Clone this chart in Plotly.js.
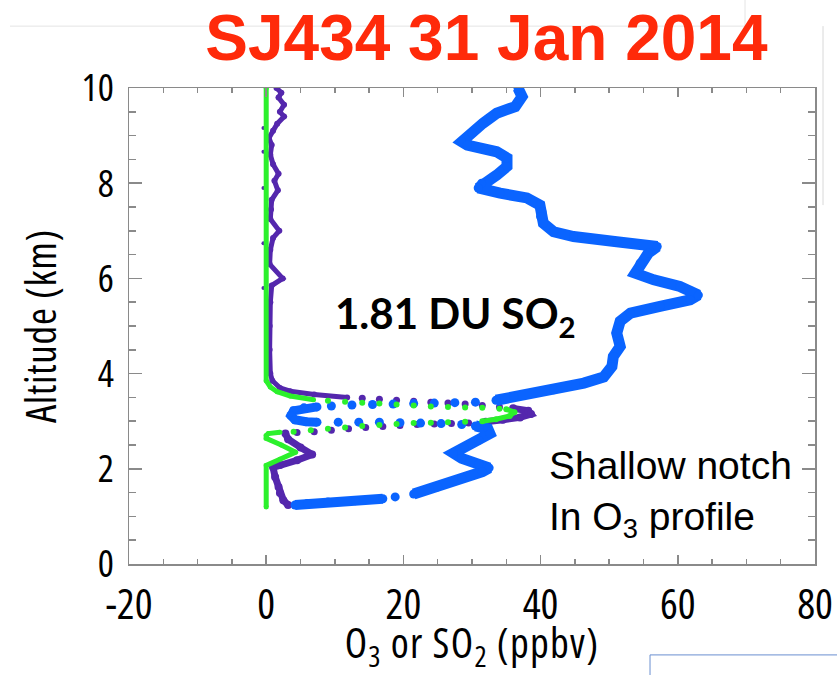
<!DOCTYPE html>
<html>
<head>
<meta charset="utf-8">
<script src="https://cdn.plot.ly/plotly-3.0.1.min.js"></script>
<style>
html,body{margin:0;padding:0;background:#fff;}
#chart{width:837px;height:675px;}
.xtick text, .ytick text { font-stretch: 75% !important; }
.g-xtitle text { font-stretch: 75% !important; letter-spacing: 1.3px; }
.g-ytitle text { font-stretch: 75% !important; letter-spacing: 0.7px; }
</style>
</head>
<body>
<div id="chart"></div>
<script>
// ---------- DATA ----------
// Ozone (blue) profile: ppbv vs altitude (km)
const o3TopVal = [36.7, 37.3, 36.3, 33.6, 31.6, 30.0, 28.5, 29.3, 33.6, 35.1, 35.1, 33.6, 31.4, 30.9, 34.1, 38.0, 39.9, 40.2, 40.0, 40.4, 41.9, 44.8, 51.1, 57.0, 55.7, 54.5, 53.8, 56.5, 60.3, 63.0, 61.8, 57.4, 53.1, 51.6, 51.1, 51.6, 50.6, 50.4, 49.2, 46.3, 41.9, 36.1, 33.5];
const o3TopAlt = [10.0, 9.82, 9.61, 9.47, 9.26, 9.05, 8.87, 8.80, 8.66, 8.53, 8.35, 8.17, 8.00, 7.90, 7.79, 7.69, 7.54, 7.40, 7.30, 7.16, 6.98, 6.88, 6.77, 6.67, 6.53, 6.32, 6.11, 5.97, 5.83, 5.65, 5.55, 5.41, 5.27, 5.10, 4.85, 4.57, 4.36, 4.15, 3.93, 3.80, 3.66, 3.51, 3.44];
const o3RowAVal = [30.5, 27.5, 24.5, 21.5, 18.5, 15.5, 12.5, 9.5];
const o3RowAAlt = [3.40, 3.39, 3.38, 3.37, 3.36, 3.35, 3.34, 3.32];
const o3CurlVal = [7.4, 5.5, 4.0, 3.6, 4.2, 5.8, 7.4];
const o3CurlAlt = [3.30, 3.28, 3.22, 3.12, 3.03, 2.99, 2.98];
const o3RowBVal = [10.5, 13.5, 16.5, 19.5, 22.5, 25.5, 28.5];
const o3RowBAlt = [2.98, 2.98, 2.98, 2.97, 2.96, 2.95, 2.93];
const o3LowVal = [30.5, 32.3, 32.6, 31.0, 28.8, 27.3, 28.5, 31.0, 32.5, 31.5, 28.5, 25.0, 21.5];
const o3LowAlt = [2.90, 2.84, 2.74, 2.60, 2.45, 2.33, 2.22, 2.10, 2.02, 1.94, 1.80, 1.62, 1.47];
const o3GapVal = [18.8];
const o3GapAlt = [1.41];
const o3BotVal = [17.0, 13.0, 9.0, 6.0, 4.2];
const o3BotAlt = [1.37, 1.33, 1.30, 1.27, 1.24];

// SO2 sonde A (green)
const gTopVal = [0, 0, 0.6, 1.6, 3.5, 6.9];
const gTopAlt = [10.0, 3.85, 3.72, 3.62, 3.53, 3.45];
const gRowAVal = [9, 11.5, 14, 16.5, 19, 21.5, 24, 26.5, 29, 31.5, 34];
const gRowAAlt = [3.43, 3.41, 3.39, 3.37, 3.35, 3.33, 3.31, 3.30, 3.29, 3.28, 3.26];
const gTipVal = [35.0, 36.2, 35.5, 33.5, 31.5];
const gTipAlt = [3.25, 3.19, 3.11, 3.04, 3.00];
const gRowBVal = [29, 26.5, 24, 21.5, 19, 16.5, 14, 11.5, 9, 6.5, 4];
const gRowBAlt = [2.99, 2.98, 2.97, 2.96, 2.94, 2.92, 2.90, 2.87, 2.84, 2.81, 2.78];
const gBotVal = [2.0, 0.3, 0, 0, 2.2, 4.3, 2.0, 0, 0];
const gBotAlt = [2.77, 2.74, 2.70, 2.64, 2.50, 2.35, 2.20, 2.07, 1.20];

// SO2 sonde B (purple)
const pTopVal = [1.5, 2.2, 1.8, 2.6, 2.0, 2.6, 1.6, 1.0, 0.4, 0.8, 0.6, 1.0, 1.8, 1.2, 1.7, 0.8, 0.7, 0.6, 1.9, 1.0, 0.6, 0.5, 2.4, 0.8, 0.6, 0.5, 0.5, 0.6, 0.9, 2.0, 3.5, 7.0, 11.8];
const pTopAlt = [10.0, 9.9, 9.8, 9.65, 9.5, 9.4, 9.25, 9.1, 8.95, 8.8, 8.6, 8.4, 8.2, 8.05, 7.85, 7.65, 7.45, 7.25, 7.0, 6.85, 6.6, 6.3, 6.0, 5.85, 5.5, 5.0, 4.5, 4.0, 3.85, 3.7, 3.63, 3.56, 3.50];
const pStrayVal = [-0.4, -0.4, -0.4, -0.4, -0.4];
const pStrayAlt = [9.16, 8.66, 7.90, 6.74, 5.80];
const pRowAVal = [14, 16.5, 19, 21.5, 24, 26.5, 29, 31.5, 34];
const pRowAAlt = [3.48, 3.46, 3.44, 3.42, 3.40, 3.38, 3.36, 3.33, 3.30];
const pTipVal = [36.0, 38.2, 38.6, 37.0, 34.5, 32.0];
const pTipAlt = [3.27, 3.22, 3.15, 3.08, 3.03, 2.99];
const pRowBVal = [29.5, 27, 24.5, 22, 19.5, 17, 14.5, 12, 9.5, 7, 4.5];
const pRowBAlt = [2.96, 2.95, 2.94, 2.93, 2.91, 2.89, 2.87, 2.84, 2.81, 2.78, 2.76];
const pBotVal = [2.8, 3.2, 5.0, 6.7, 4.5, 2.0, 1.0, 1.3, 1.8, 2.0, 2.5, 3.2];
const pBotAlt = [2.74, 2.62, 2.45, 2.30, 2.18, 2.08, 2.03, 1.83, 1.62, 1.49, 1.34, 1.24];

const xTickVals = [-20, 0, 20, 40, 60, 80];
const yTickVals = [0, 2, 4, 6, 8, 10];

// ---------- STYLE ----------
const BLUE = '#0a64ff', GREEN = '#2cf02c', PURPLE = '#5427ad';
const AXFONT = '"Open Sans", "Liberation Sans", sans-serif';
const AX = '#8a8a8a';

function seg(x, y, color, dense, lw, ms) {
  return {
    x: x, y: y, type: 'scatter', showlegend: false, hoverinfo: 'x+y',
    mode: dense ? 'lines+markers' : 'markers',
    line: { color: color, width: lw },
    marker: { color: color, size: ms }
  };
}

const data = [
  seg(pTopVal, pTopAlt, PURPLE, true, 5, 6),
  seg(pStrayVal, pStrayAlt, PURPLE, false, 0, 4),
  seg(pRowAVal, pRowAAlt, PURPLE, false, 0, 7),
  seg(pTipVal, pTipAlt, PURPLE, true, 7, 8),
  seg(pRowBVal, pRowBAlt, PURPLE, false, 0, 7),
  seg(pBotVal, pBotAlt, PURPLE, true, 7, 8),
  seg(o3TopVal, o3TopAlt, BLUE, true, 11, 9),
  seg(o3RowAVal, o3RowAAlt, BLUE, false, 0, 9),
  seg(o3CurlVal, o3CurlAlt, BLUE, true, 9, 9),
  seg(o3RowBVal, o3RowBAlt, BLUE, false, 0, 9),
  seg(o3LowVal, o3LowAlt, BLUE, true, 11, 9),
  seg(o3GapVal, o3GapAlt, BLUE, false, 0, 9),
  seg(o3BotVal, o3BotAlt, BLUE, true, 10, 9),
  seg(gTopVal, gTopAlt, GREEN, true, 5, 5),
  seg(gRowAVal, gRowAAlt, GREEN, false, 0, 6),
  seg(gTipVal, gTipAlt, GREEN, true, 5, 6),
  seg(gRowBVal, gRowBAlt, GREEN, false, 0, 6),
  seg(gBotVal, gBotAlt, GREEN, true, 5, 5)
];

const layout = {
  width: 837, height: 675,
  margin: { l: 129, r: 22, t: 88, b: 111 },
  paper_bgcolor: '#ffffff', plot_bgcolor: '#ffffff',
  showlegend: false,
  title: {
    text: '<b>SJ434 31 Jan 2014</b>',
    font: { family: '"Liberation Sans", Arial, sans-serif', size: 64, color: '#ff2a0a' },
    xref: 'paper', x: 0.521, xanchor: 'center',
    yref: 'container', y: 0.944, yanchor: 'middle'
  },
  xaxis: {
    range: [-20, 80], tickvals: xTickVals, ticktext: xTickVals.map(String),
    showgrid: false, zeroline: false,
    showline: true, linecolor: AX, linewidth: 1.5, mirror: 'allticks',
    ticks: 'inside', ticklen: 9, tickwidth: 1.5, tickcolor: AX,
    minor: { dtick: 5, ticks: 'inside', ticklen: 5, tickwidth: 1.5, tickcolor: AX, showgrid: false },
    tickfont: { family: AXFONT, size: 42, color: '#000' },
    ticklabeloverflow: 'allow',
    ticklabelstandoff: 3,
    title: { text: 'O<sub>3</sub> or SO<sub>2</sub> (ppbv)', font: { family: AXFONT, size: 41, color: '#000' }, standoff: 14 }
  },
  yaxis: {
    range: [0, 10], tickvals: yTickVals, ticktext: yTickVals.map(String),
    showgrid: false, zeroline: false,
    showline: true, linecolor: AX, linewidth: 1.5, mirror: 'allticks',
    ticks: 'inside', ticklen: 13, tickwidth: 1.5, tickcolor: AX,
    minor: { dtick: 0.5, ticks: 'inside', ticklen: 7, tickwidth: 1.5, tickcolor: AX, showgrid: false },
    tickfont: { family: AXFONT, size: 38, color: '#000' },
    ticklabeloverflow: 'allow',
    ticklabelstandoff: 6,
    title: { text: 'Altitude (km)', font: { family: AXFONT, size: 41, color: '#000' }, standoff: 12 }
  },
  annotations: [
    { text: '<b>1.81 DU SO<sub>2</sub></b>', xref: 'x', yref: 'y', x: 27.6, y: 5.22,
      xanchor: 'center', yanchor: 'middle', showarrow: false,
      font: { family: 'Lato, "Open Sans", sans-serif', size: 42, color: '#000' } },
    { text: 'Shallow notch<br>In O<sub>3</sub> profile', xref: 'x', yref: 'y', x: 41.0, y: 2.57,
      xanchor: 'left', yanchor: 'top', align: 'left', showarrow: false,
      font: { family: '"Liberation Sans", Arial, sans-serif', size: 39, color: '#000' } }
  ],
  shapes: [
    { type: 'line', xref: 'paper', yref: 'paper', x0: -0.1735, x1: 0.898, y0: 1.130, y1: 1.130, line: { color: '#e4e4e4', width: 1 } },
    { type: 'line', xref: 'paper', yref: 'paper', x0: 0.898, x1: 0.898, y0: 1.130, y1: 1.19, line: { color: '#e4e4e4', width: 1 } },
    { type: 'line', xref: 'paper', yref: 'paper', x0: 1.0117, x1: 1.0117, y0: 1.130, y1: 0.754, line: { color: '#d8d8d8', width: 1 } },
    { type: 'rect', xref: 'paper', yref: 'paper', x0: 0.7595, x1: 1.04, y0: -0.191, y1: -0.25, line: { color: '#6a8fd0', width: 1 } }
  ]
};

Plotly.newPlot('chart', data, layout, { staticPlot: true, displayModeBar: false });
</script>
</body>
</html>
